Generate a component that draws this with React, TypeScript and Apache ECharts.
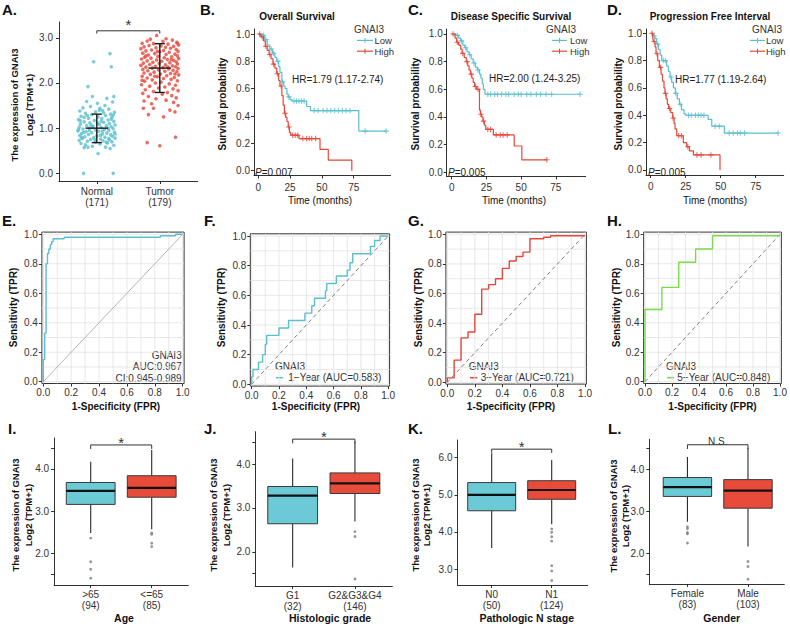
import React, { useEffect, useRef } from 'react';
import * as echarts from 'echarts';

const FONT = 'Liberation Sans';
const CYAN = '#5BBFCE';
const RED = '#E5473A';
const GREEN = '#7ADB4E';
const BOX_CYAN = '#6BCAD6';
const BOX_RED = '#E84B3A';

// ---------- Panel A : expression scatter ----------
const groupsA = ['Normal', 'Tumor'];
const countsA = [171, 179];
const ticksA = [0, 1, 2, 3];
// [jitter offset, value]
const normalPts = [
  [-0.21, 0.0], [0.26, 0.0], [0.21, 2.65], [-0.05, 2.47], [0.23, 2.36], [-0.14, 1.92], [-0.07, 1.7], [0.27, 1.7],
  [0.16, 1.66], [-0.16, 1.59], [0.01, 1.55], [0.13, 1.5], [0.25, 1.58], [-0.22, 1.45], [-0.1, 1.48], [0.05, 1.44],
  [0.19, 1.42], [-0.27, 1.38], [-0.02, 1.36], [0.09, 1.39], [0.28, 1.35], [-0.18, 1.33], [0.22, 1.31], [-0.08, 1.3],
  [0.14, 1.28], [-0.25, 1.26], [0.02, 1.25], [0.24, 1.24], [-0.13, 1.22], [0.08, 1.21], [-0.29, 1.19], [0.18, 1.18],
  [-0.04, 1.17], [0.27, 1.15], [-0.2, 1.14], [0.11, 1.13], [-0.11, 1.12], [0.2, 1.1], [-0.26, 1.09], [0.04, 1.08],
  [0.29, 1.07], [-0.16, 1.06], [0.15, 1.05], [-0.06, 1.04], [0.23, 1.03], [-0.28, 1.02], [0.07, 1.01], [-0.12, 1.0],
  [0.26, 0.99], [-0.22, 0.98], [0.12, 0.97], [-0.02, 0.96], [0.19, 0.95], [-0.3, 0.94], [0.03, 0.93], [-0.17, 0.92],
  [0.28, 0.91], [-0.08, 0.9], [0.16, 0.89], [-0.24, 0.88], [0.09, 0.87], [-0.13, 0.86], [0.22, 0.85], [-0.27, 0.84],
  [0.0, 0.83], [0.25, 0.82], [-0.19, 0.81], [0.13, 0.8], [-0.05, 0.79], [0.29, 0.78], [-0.23, 0.77], [0.06, 0.76],
  [-0.1, 0.75], [0.2, 0.74], [-0.28, 0.73], [0.1, 0.72], [-0.15, 0.71], [0.24, 0.7], [-0.02, 0.69], [0.17, 0.67],
  [-0.25, 0.66], [0.05, 0.65], [-0.18, 0.63], [0.27, 0.62], [-0.07, 0.6], [0.14, 0.58], [-0.2, 0.57], [0.21, 0.55],
  [0.02, 0.44], [-0.14, 0.58], [0.11, 1.34], [-0.2, 1.24], [0.07, 1.15], [-0.09, 1.07], [0.18, 1.0], [-0.21, 0.91],
  [0.06, 0.84], [-0.26, 1.16], [0.29, 0.87], [-0.03, 0.75], [0.15, 0.69], [-0.12, 0.95], [0.23, 1.2], [-0.15, 1.28],
  [0.01, 1.11], [0.26, 1.29], [-0.24, 0.79], [0.09, 0.93], [-0.07, 1.02], [0.19, 0.77], [-0.29, 0.97], [0.04, 1.4],
];
const tumorPts = [
  [-0.05, 3.05], [0.2, 2.95], [-0.2, 2.93], [0.05, 2.92], [0.27, 2.9], [-0.28, 2.88], [-0.1, 2.87], [0.13, 2.86],
  [0.3, 2.84], [-0.17, 2.83], [0.02, 2.82], [0.22, 2.81], [-0.25, 2.8], [0.09, 2.79], [-0.06, 2.78], [0.17, 2.77],
  [-0.3, 2.76], [0.26, 2.74], [-0.13, 2.73], [0.06, 2.72], [-0.22, 2.71], [0.29, 2.7], [0.0, 2.69], [0.15, 2.68],
  [-0.27, 2.66], [-0.08, 2.65], [0.24, 2.64], [0.1, 2.63], [-0.18, 2.62], [0.28, 2.6], [-0.03, 2.59], [0.19, 2.58],
  [-0.24, 2.57], [0.07, 2.56], [-0.14, 2.55], [0.3, 2.54], [-0.29, 2.53], [0.12, 2.52], [-0.05, 2.51], [0.22, 2.5],
  [-0.2, 2.49], [0.03, 2.48], [0.26, 2.47], [-0.11, 2.46], [0.16, 2.45], [-0.26, 2.44], [-0.01, 2.43], [0.28, 2.42],
  [-0.16, 2.41], [0.09, 2.4], [-0.3, 2.39], [0.2, 2.38], [-0.07, 2.37], [0.25, 2.36], [-0.22, 2.35], [0.05, 2.34],
  [-0.12, 2.33], [0.29, 2.32], [0.14, 2.31], [-0.27, 2.3], [-0.02, 2.29], [0.21, 2.28], [-0.19, 2.27], [0.08, 2.26],
  [0.27, 2.25], [-0.09, 2.24], [-0.25, 2.22], [0.17, 2.21], [0.01, 2.2], [-0.15, 2.19], [0.3, 2.18], [0.11, 2.16],
  [-0.28, 2.15], [-0.04, 2.14], [0.23, 2.12], [-0.2, 2.11], [0.06, 2.1], [0.18, 2.08], [-0.12, 2.07], [0.28, 2.05],
  [-0.24, 2.04], [0.02, 2.02], [-0.07, 2.0], [0.15, 1.98], [-0.29, 1.96], [0.25, 1.95], [-0.16, 1.93], [0.08, 1.91],
  [-0.02, 1.89], [0.21, 1.87], [-0.23, 1.85], [0.29, 1.83], [-0.1, 1.81], [0.12, 1.79], [-0.27, 1.77], [0.04, 1.75],
  [0.19, 1.72], [-0.18, 1.7], [0.26, 1.67], [-0.06, 1.65], [0.1, 1.62], [-0.25, 1.6], [0.22, 1.57], [-0.13, 1.54],
  [0.29, 1.5], [-0.26, 1.44], [-0.1, 1.44], [0.24, 1.36], [-0.18, 1.3], [0.06, 1.25], [0.16, 1.4], [-0.2, 0.68],
  [0.0, 0.61], [0.25, 0.8], [0.28, 2.88], [-0.15, 2.97], [0.1, 2.98], [-0.22, 2.6], [0.18, 2.52], [-0.04, 2.7],
  [0.24, 2.2], [-0.28, 2.06], [0.13, 2.35], [-0.08, 2.15],
];
// [group, mean, mean-sd, mean+sd]
const meanSdA = [[1, 1.0, 0.68, 1.31], [2, 2.33, 1.79, 2.87]];
const bracketA = [[1, 2, 3.155, 3.095]];

// ---------- Panels B-D : Kaplan-Meier ----------
const kmTicksX = [0, 25, 50, 75];
const kmTicksY = [0, 0.2, 0.4, 0.6, 0.8, 1.0];
const kmTitles = ['Overall Survival', 'Disease Specific Survival', 'Progression Free Interval'];
const kmHR = ['HR=1.79 (1.17-2.74)', 'HR=2.00 (1.24-3.25)', 'HR=1.77 (1.19-2.64)'];
const kmP = ['0.007', '0.005', '0.005'];
const kmGroups = ['Low', 'High'];

const osLow = [[0, 1], [3, 0.99], [5, 0.96], [7, 0.92], [9, 0.89], [11, 0.86], [13, 0.83], [14.5, 0.8], [16, 0.76], [17, 0.72], [18.5, 0.65], [20, 0.62], [21, 0.6], [22.5, 0.56], [23.5, 0.54], [25, 0.52], [26.5, 0.51], [38, 0.47], [41, 0.44], [79, 0.29], [100.5, 0.29]];
const osLowCens = [[4, 0.99], [6, 0.96], [10, 0.89], [12, 0.86], [15.5, 0.8], [19, 0.65], [24, 0.54], [28, 0.51], [30, 0.51], [32, 0.51], [34, 0.51], [36, 0.51], [44, 0.44], [47, 0.44], [51, 0.44], [54, 0.44], [57, 0.44], [60, 0.44], [63, 0.44], [66, 0.44], [69, 0.44], [72, 0.44], [84, 0.29], [100.5, 0.29]];
const osHigh = [[0, 1], [2, 0.98], [4, 0.95], [5.5, 0.91], [7, 0.88], [8.5, 0.85], [10, 0.82], [11.5, 0.78], [13, 0.75], [14.5, 0.71], [16, 0.66], [17, 0.62], [18.5, 0.55], [19.5, 0.48], [20.5, 0.42], [21.5, 0.39], [22.5, 0.36], [23.5, 0.32], [24.5, 0.28], [25.5, 0.26], [32, 0.235], [48.5, 0.156], [55, 0.078], [73.5, 0]];
const osHighCens = [[1, 1], [3, 0.98], [6, 0.91], [9, 0.85], [12, 0.78], [15, 0.71], [18, 0.62], [21, 0.42], [24, 0.32], [27, 0.26], [29, 0.26], [31, 0.26], [35, 0.235], [38, 0.235], [40, 0.235], [42, 0.235], [45, 0.235]];

const dssLow = [[0, 1], [3, 0.99], [5, 0.97], [6.5, 0.95], [8, 0.92], [9.5, 0.9], [11, 0.87], [12.5, 0.85], [14, 0.82], [15.5, 0.79], [17, 0.76], [18.5, 0.74], [20, 0.71], [21, 0.68], [22, 0.64], [22.8, 0.6], [24, 0.564], [92.5, 0.564]];
const dssLowCens = [[4, 0.99], [7, 0.95], [10, 0.9], [13, 0.85], [16, 0.79], [19, 0.74], [26, 0.564], [28, 0.564], [31, 0.564], [33, 0.564], [36, 0.564], [39, 0.564], [41, 0.564], [45, 0.564], [48, 0.564], [50, 0.564], [54, 0.564], [57, 0.564], [61, 0.564], [64, 0.564], [68, 0.564], [72, 0.564], [92.5, 0.564]];
const dssHigh = [[0, 1], [2.4, 0.97], [3.6, 0.94], [5, 0.92], [6.5, 0.89], [7.5, 0.86], [9, 0.83], [10.5, 0.8], [11.5, 0.77], [12.5, 0.74], [13.5, 0.71], [14.5, 0.68], [15.5, 0.65], [16.5, 0.62], [18, 0.6], [20, 0.45], [20.7, 0.42], [21.5, 0.4], [22.5, 0.37], [23.5, 0.34], [24.5, 0.31], [30, 0.27], [45, 0.19], [50.5, 0.09], [68.5, 0.09]];
const dssHighCens = [[1, 1], [4, 0.94], [8, 0.86], [11, 0.8], [14, 0.71], [17, 0.62], [19, 0.6], [21, 0.42], [23, 0.37], [26, 0.31], [28, 0.31], [32, 0.27], [35, 0.27], [37, 0.27], [40, 0.27], [68.5, 0.09]];

const pfiLow = [[0, 1], [1.9, 0.98], [3.1, 0.96], [4.3, 0.92], [5.5, 0.88], [6.7, 0.84], [7.9, 0.8], [11.4, 0.76], [12.6, 0.72], [13.8, 0.68], [15, 0.64], [16.2, 0.6], [17.6, 0.56], [19, 0.52], [20.5, 0.48], [22, 0.44], [23.8, 0.41], [25, 0.4], [41, 0.37], [43.6, 0.32], [52.6, 0.27], [91, 0.27]];
const pfiLowCens = [[2.5, 0.98], [5, 0.92], [9, 0.8], [10.5, 0.8], [14.4, 0.68], [18, 0.56], [21, 0.48], [27, 0.4], [29, 0.4], [32, 0.4], [34, 0.4], [36, 0.4], [38, 0.4], [46, 0.32], [49, 0.32], [56, 0.27], [59, 0.27], [62, 0.27], [64, 0.27], [67, 0.27], [91, 0.27]];
const pfiHigh = [[0, 1], [1.4, 0.97], [1.9, 0.94], [3.1, 0.9], [3.8, 0.85], [5, 0.8], [6.2, 0.75], [7.4, 0.7], [8.4, 0.65], [9.5, 0.6], [10.2, 0.56], [11, 0.52], [11.9, 0.48], [12.8, 0.45], [14.3, 0.42], [15.7, 0.38], [16.7, 0.34], [17.4, 0.3], [18.6, 0.25], [23.3, 0.2], [25.7, 0.17], [27.6, 0.14], [30.5, 0.11], [49.5, 0]];
const pfiHighCens = [[1, 1], [2.5, 0.94], [4.5, 0.85], [7, 0.75], [10.6, 0.56], [13.5, 0.45], [16, 0.38], [20, 0.25], [22, 0.25], [26.5, 0.17], [33, 0.11], [36, 0.11], [43, 0.11]];

const kmCurves = [
  { low: osLow, lowC: osLowCens, high: osHigh, highC: osHighCens },
  { low: dssLow, lowC: dssLowCens, high: dssHigh, highC: dssHighCens },
  { low: pfiLow, lowC: pfiLowCens, high: pfiHigh, highC: pfiHighCens },
];

// ---------- Panels E-H : ROC ----------
const rocTicks = [0, 0.2, 0.4, 0.6, 0.8, 1.0];
const rocGridVals = [0, 0.1, 0.2, 0.3, 0.4, 0.5, 0.6, 0.7, 0.8, 0.9, 1.0];
const diag = [[0, 0], [1, 1]];
const rocE = [[0, 0], [0, 0.15], [0.01, 0.15], [0.01, 0.33], [0.02, 0.33], [0.02, 0.8], [0.03, 0.8], [0.03, 0.87], [0.04, 0.87], [0.04, 0.9], [0.05, 0.9], [0.05, 0.93], [0.06, 0.93], [0.06, 0.95], [0.07, 0.95], [0.07, 0.97], [0.15, 0.97], [0.15, 0.98], [0.84, 0.98], [0.84, 0.99], [0.95, 0.99], [0.95, 1], [1, 1]];
const rocF = [[0, 0], [0, 0.05], [0.01, 0.05], [0.01, 0.1], [0.05, 0.1], [0.05, 0.15], [0.08, 0.15], [0.08, 0.2], [0.1, 0.2], [0.1, 0.27], [0.11, 0.27], [0.11, 0.33], [0.2, 0.33], [0.2, 0.38], [0.27, 0.38], [0.27, 0.43], [0.39, 0.43], [0.39, 0.48], [0.44, 0.48], [0.44, 0.53], [0.46, 0.53], [0.46, 0.58], [0.54, 0.58], [0.54, 0.63], [0.55, 0.63], [0.55, 0.68], [0.62, 0.68], [0.62, 0.73], [0.7, 0.73], [0.7, 0.77], [0.72, 0.77], [0.72, 0.82], [0.74, 0.82], [0.74, 0.88], [0.87, 0.88], [0.87, 0.93], [0.9, 0.93], [0.9, 0.97], [0.94, 0.97], [0.94, 1], [1, 1]];
const rocG = [[0, 0], [0, 0.03], [0.05, 0.03], [0.05, 0.15], [0.1, 0.15], [0.1, 0.3], [0.15, 0.3], [0.15, 0.34], [0.2, 0.34], [0.2, 0.46], [0.25, 0.46], [0.25, 0.63], [0.3, 0.63], [0.3, 0.66], [0.35, 0.66], [0.35, 0.7], [0.4, 0.7], [0.4, 0.77], [0.45, 0.77], [0.45, 0.82], [0.5, 0.82], [0.5, 0.85], [0.55, 0.85], [0.55, 0.88], [0.6, 0.88], [0.6, 0.97], [0.7, 0.97], [0.7, 0.98], [0.75, 0.98], [0.75, 0.99], [1, 0.99]];
const rocH = [[0, 0], [0, 0.49], [0.125, 0.49], [0.125, 0.64], [0.25, 0.64], [0.25, 0.81], [0.375, 0.81], [0.375, 0.9], [0.5, 0.9], [0.5, 0.99], [1, 0.99]];
const rocLegendF = '1\u2212Year (AUC=0.583)';
const rocLegendG = '3\u2212Year (AUC=0.721)';
const rocLegendH = '5\u2212Year (AUC=0.848)';
const rocLegendE = ['GNAI3', 'AUC:0.967', 'CI:0.945-0.989'];

// ---------- Panels I-L : boxplots ----------
const boxTicks = [1.5, 2, 3, 4, 4.5];
const boxLabels = [2, 3, 4];
const boxTicksK = [3, 4, 5, 6];
const catsI = ['>65', '<=65'];
const nI = [94, 85];
const catsJ = ['G1', 'G2&G3&G4'];
const nJ = [32, 146];
const catsK = ['N0', 'N1'];
const nK = [50, 124];
const catsL = ['Female', 'Male'];
const nL = [83, 103];
// [group, lower whisker, Q1, median, Q3, upper whisker]
const boxI = [[1, 2.48, 3.16, 3.48, 3.68, 4.17], [2, 2.57, 3.33, 3.55, 3.84, 4.45]];
const outI = [[1, 2.36], [1, 1.8], [1, 1.62], [1, 1.41], [2, 2.48], [2, 2.45], [2, 2.24], [2, 2.16]];
const boxJ = [[1, 1.64, 2.64, 3.28, 3.49, 4.13], [2, 2.69, 3.33, 3.56, 3.8, 4.51]];
const outJ = [[2, 2.46], [2, 2.35], [2, 1.38]];
const boxK = [[1, 3.57, 4.57, 5.0, 5.33, 6.12], [2, 4.21, 4.88, 5.13, 5.38, 5.94]];
const outK = [[2, 4.08], [2, 3.99], [2, 3.87], [2, 3.75], [2, 3.09], [2, 2.95], [2, 2.69]];
const boxL = [[1, 2.75, 3.35, 3.57, 3.8, 4.29], [2, 2.16, 3.07, 3.49, 3.75, 4.5]];
const outL = [[1, 2.63], [1, 2.58], [1, 2.49], [1, 2.46], [1, 2.24], [2, 1.8], [2, 1.68], [2, 1.38]];
const bracketI = [[1, 2, 4.57, 4.475]];
const bracketJ = [[1, 2, 4.57, 4.475]];
const bracketK = [[1, 2, 6.23, 6.13]];
const bracketL = [[1, 2, 4.58, 4.48]];

// ---------- layout ----------
const GRIDS = [
  { left: 59, top: 22, width: 138.6, height: 159 },
  { left: 254, top: 29, width: 136.6, height: 146.5 },
  { left: 446.7, top: 29, width: 139, height: 147.4 },
  { left: 646, top: 29, width: 137.7, height: 146 },
  { left: 41.9, top: 232.1, width: 142.2, height: 151.4 },
  { left: 250.3, top: 233.8, width: 139.3, height: 152.3 },
  { left: 445.9, top: 232.1, width: 140.5, height: 152 },
  { left: 643.65, top: 232.1, width: 137.7, height: 151.4 },
  { left: 54.1, top: 438, width: 134.2, height: 147 },
  { left: 255.3, top: 431.7, width: 137, height: 154.3 },
  { left: 457.5, top: 440, width: 130.2, height: 145 },
  { left: 649.3, top: 439.3, width: 135, height: 144.7 },
];
const RANGES = [
  { x: [0.4, 2.6], y: [-0.17, 3.35] },
  { x: [-3.4, 104], y: [-0.035, 1.037] },
  { x: [-3.6, 96.5], y: [-0.03, 1.036] },
  { x: [-3.36, 95], y: [-0.037, 1.031] },
  { x: [-0.01, 1.01], y: [-0.012, 1.015] },
  { x: [-0.01, 1.01], y: [-0.012, 1.015] },
  { x: [-0.01, 1.01], y: [-0.012, 1.015] },
  { x: [-0.01, 1.01], y: [-0.012, 1.015] },
  { x: [0.4, 2.6], y: [1.248, 4.735] },
  { x: [0.4, 2.6], y: [1.22, 4.74] },
  { x: [0.43, 2.6], y: [2.57, 6.477] },
  { x: [0.37, 2.6], y: [1.265, 4.71] },
];

const AX_COLOR = '#1a1a1a';

function vAxis(gi: number, range: number[], ticks: number[], fmt: (v: number) => string, o: any = {}) {
  return {
    type: 'value', gridIndex: gi, min: range[0], max: range[1],
    splitLine: { show: false },
    axisLine: { show: o.line !== false, onZero: false, lineStyle: { color: AX_COLOR, width: 0.9 } },
    axisTick: { show: true, length: 3, customValues: ticks, lineStyle: { color: AX_COLOR, width: 0.9 } },
    axisLabel: {
      customValues: o.labels || ticks, formatter: fmt, margin: o.margin ?? 5,
      color: '#333', fontFamily: FONT, fontSize: 10, lineHeight: o.lh ?? 11,
    },
  };
}

const fix1 = (v: number) => v.toFixed(1);
const catFmt = (cats: string[], ns: number[]) => (v: number) => {
  const i = Math.round(v) - 1;
  return `${cats[i]}\n(${ns[i]})`;
};

const plusPath = 'path://M4,0H6V4H10V6H6V10H4V6H0V4H4Z';

const errRender = (params: any, api: any) => {
  const x = api.value(0);
  const pm = api.coord([x, api.value(1)]);
  const pl = api.coord([x, api.value(2)]);
  const ph = api.coord([x, api.value(3)]);
  const cap = api.size([0.08, 0])[0];
  const half = api.size([0.18, 0])[0];
  const st = { stroke: '#1a1a1a', lineWidth: 1.4 };
  return {
    type: 'group', children: [
      { type: 'line', shape: { x1: pl[0], y1: pl[1], x2: ph[0], y2: ph[1] }, style: st },
      { type: 'line', shape: { x1: pl[0] - cap, y1: pl[1], x2: pl[0] + cap, y2: pl[1] }, style: st },
      { type: 'line', shape: { x1: ph[0] - cap, y1: ph[1], x2: ph[0] + cap, y2: ph[1] }, style: st },
      { type: 'line', shape: { x1: pm[0] - half, y1: pm[1], x2: pm[0] + half, y2: pm[1] }, style: st },
    ],
  };
};

const boxRender = (colors: string[]) => (params: any, api: any) => {
  const x = api.value(0);
  const lo = api.coord([x, api.value(1)]);
  const q1 = api.coord([x, api.value(2)]);
  const md = api.coord([x, api.value(3)]);
  const q3 = api.coord([x, api.value(4)]);
  const hi = api.coord([x, api.value(5)]);
  const w = api.size([0.8, 0])[0];
  const cx = q1[0];
  const st = { stroke: '#2a2a2a', lineWidth: 1.1 };
  return {
    type: 'group', children: [
      { type: 'line', shape: { x1: cx, y1: lo[1], x2: cx, y2: q1[1] }, style: st },
      { type: 'line', shape: { x1: cx, y1: q3[1], x2: cx, y2: hi[1] }, style: st },
      { type: 'rect', shape: { x: cx - w / 2, y: q3[1], width: w, height: q1[1] - q3[1] }, style: { fill: colors[params.dataIndex], stroke: '#3a3a3a', lineWidth: 1 } },
      { type: 'line', shape: { x1: cx - w / 2, y1: md[1], x2: cx + w / 2, y2: md[1] }, style: { stroke: '#111', lineWidth: 2.2 } },
    ],
  };
};

const bracketRender = (label: string, dy: number, fs: number) => (params: any, api: any) => {
  const a = api.coord([api.value(0), api.value(2)]);
  const b = api.coord([api.value(1), api.value(2)]);
  const t = api.coord([api.value(0), api.value(3)]);
  const st = { stroke: '#333', lineWidth: 1 };
  return {
    type: 'group', children: [
      { type: 'line', shape: { x1: a[0], y1: a[1], x2: b[0], y2: b[1] }, style: st },
      { type: 'line', shape: { x1: a[0], y1: a[1], x2: a[0], y2: t[1] }, style: st },
      { type: 'line', shape: { x1: b[0], y1: b[1], x2: b[0], y2: t[1] }, style: st },
      { type: 'text', x: (a[0] + b[0]) / 2, y: a[1] + dy, style: { text: label, fill: '#333', fontSize: fs, fontFamily: FONT, textAlign: 'center', textVerticalAlign: 'middle' } },
    ],
  };
};

const rocGridRender = (params: any, api: any) => {
  const v = api.value(0);
  const cs = params.coordSys;
  const px = api.coord([v, 0])[0];
  const py = api.coord([0, v])[1];
  const st = { stroke: '#e2e2e2', lineWidth: 0.8 };
  return {
    type: 'group', children: [
      { type: 'line', shape: { x1: px, y1: cs.y, x2: px, y2: cs.y + cs.height }, style: st },
      { type: 'line', shape: { x1: cs.x, y1: py, x2: cs.x + cs.width, y2: py }, style: st },
    ],
  };
};

function buildOption() {
  const grid: any[] = GRIDS.map((g, i) => ({
    ...g, containLabel: false, outerBoundsMode: 'none',
    show: i >= 4 && i <= 7, borderColor: '#333', borderWidth: 1, backgroundColor: 'transparent',
  }));
  const xAxis: any[] = [];
  const yAxis: any[] = [];
  const series: any[] = [];
  const el: any[] = [];

  const text = (x: number, y: number, s: string, o: any = {}) => {
    el.push({
      type: 'text', x, y, rotation: o.rot || 0, silent: true,
      style: {
        text: s, fill: o.color || '#222', fontFamily: FONT, fontSize: o.size || 10,
        fontWeight: o.bold ? 'bold' : 'normal', textAlign: o.align || 'left', textVerticalAlign: 'middle',
        rich: o.rich,
      },
    });
  };
  const seg = (x1: number, y1: number, x2: number, y2: number, color: string, w = 1.2) => {
    el.push({ type: 'line', silent: true, shape: { x1, y1, x2, y2 }, style: { stroke: color, lineWidth: w } });
  };

  // ----- A -----
  xAxis.push(vAxis(0, RANGES[0].x, [1, 2], catFmt(groupsA, countsA), { margin: 4.5, lh: 11.5 }));
  yAxis.push(vAxis(0, RANGES[0].y, ticksA, fix1, { margin: 6 }));
  series.push({ type: 'scatter', xAxisIndex: 0, yAxisIndex: 0, symbolSize: 3.6, itemStyle: { color: CYAN }, data: normalPts.map(([d, v]) => [1 + d, v]), silent: true });
  series.push({ type: 'scatter', xAxisIndex: 0, yAxisIndex: 0, symbolSize: 3.6, itemStyle: { color: RED }, data: tumorPts.map(([d, v]) => [2 + d, v]), silent: true });
  series.push({ type: 'custom', xAxisIndex: 0, yAxisIndex: 0, renderItem: errRender, data: meanSdA, encode: { x: 0, y: [1, 2, 3] }, z: 5, silent: true });
  series.push({ type: 'custom', xAxisIndex: 0, yAxisIndex: 0, renderItem: bracketRender('*', -6, 15), data: bracketA, encode: { x: [0, 1], y: [2, 3] }, silent: true });

  // ----- B-D -----
  for (let k = 0; k < 3; k++) {
    const gi = 1 + k;
    xAxis.push(vAxis(gi, RANGES[gi].x, kmTicksX, (v: number) => String(v), { margin: 6 }));
    yAxis.push(vAxis(gi, RANGES[gi].y, kmTicksY, fix1, { margin: 4 }));
    const c = kmCurves[k];
    const line = (data: number[][], color: string) => ({
      type: 'line', xAxisIndex: gi, yAxisIndex: gi, data, step: 'end', showSymbol: false, symbol: 'none',
      lineStyle: { color, width: 1.2 }, itemStyle: { color }, silent: true,
    });
    const cens = (data: number[][], color: string) => ({
      type: 'scatter', xAxisIndex: gi, yAxisIndex: gi, data, symbol: plusPath, symbolSize: 5.5,
      itemStyle: { color }, silent: true,
    });
    series.push(line(c.low, CYAN), cens(c.lowC, CYAN), line(c.high, RED), cens(c.highC, RED));
  }
  const kmLay = [
    { title: 297, gn: 354, l1: 357, l2: 373, tx: 374.5, hr: [292, 79], p: [255, 172], yl: 222, xl: 320 },
    { title: 511, gn: 546, l1: 552, l2: 567, tx: 570, hr: [489, 78], p: [448, 172], yl: 415, xl: 514 },
    { title: 710, gn: 752, l1: 750, l2: 765, tx: 766, hr: [675, 79], p: [648, 172], yl: 618, xl: 715 },
  ];
  kmLay.forEach((L, k) => {
    text(L.title, 16, kmTitles[k], { bold: true, align: 'center', color: '#111' });
    text(L.gn, 29, 'GNAI3', { color: '#333' });
    [CYAN, RED].forEach((col, j) => {
      const y = j === 0 ? 40.4 : 51.2;
      seg(L.l1, y, L.l2, y, col, 1.2);
      const mx = (L.l1 + L.l2) / 2;
      seg(mx, y - 2.5, mx, y + 2.5, col, 1);
      text(L.tx, y, kmGroups[j], { size: 9.5, color: '#333' });
    });
    text(L.hr[0], L.hr[1], kmHR[k], { color: '#222' });
    text(L.p[0], L.p[1], `{i|P}=${kmP[k]}`, { color: '#222', rich: { i: { fontStyle: 'italic', fontSize: 10, fontFamily: FONT, fill: '#222' } } });
    text(L.yl, 104, 'Survival probability', { bold: true, rot: Math.PI / 2, align: 'center', color: '#111' });
    text(L.xl, 200, 'Time (months)', { align: 'center', color: '#111' });
  });

  // ----- E-H -----
  const rocSets = [
    { data: rocE, color: CYAN, diagColor: '#b3b3b3', dashed: false },
    { data: rocF, color: CYAN, diagColor: '#808080', dashed: true },
    { data: rocG, color: RED, diagColor: '#808080', dashed: true },
    { data: rocH, color: GREEN, diagColor: '#808080', dashed: true },
  ];
  rocSets.forEach((r, k) => {
    const gi = 4 + k;
    xAxis.push(vAxis(gi, RANGES[gi].x, rocTicks, fix1, { margin: 3.5, line: false }));
    yAxis.push(vAxis(gi, RANGES[gi].y, rocTicks, fix1, { margin: 4, line: false }));
    series.push({ type: 'custom', xAxisIndex: gi, yAxisIndex: gi, renderItem: rocGridRender, data: rocGridVals.map((v) => [v, v]), encode: { x: 0, y: 1 }, silent: true, z: 1 });
    series.push({ type: 'line', xAxisIndex: gi, yAxisIndex: gi, data: diag, showSymbol: false, symbol: 'none', lineStyle: { color: r.diagColor, width: 1, type: r.dashed ? [4, 3] : 'solid' }, silent: true, z: 2 });
    series.push({ type: 'line', xAxisIndex: gi, yAxisIndex: gi, data: r.data, showSymbol: false, symbol: 'none', lineStyle: { color: r.color, width: 1.4 }, itemStyle: { color: r.color }, silent: true, z: 3 });
  });
  const rocLay = [
    { yl: 13.3, xl: 116 },
    { yl: 221.7, xl: 316 },
    { yl: 418.3, xl: 511 },
    { yl: 616.7, xl: 712.5 },
  ];
  rocLay.forEach((L) => {
    text(L.yl, 307.5, 'Sensitivity (TPR)', { bold: true, rot: Math.PI / 2, align: 'center', color: '#111' });
    text(L.xl, 406, '1-Specificity (FPR)', { bold: true, align: 'center', color: '#111' });
  });
  text(181.7, 355.3, rocLegendE[0], { align: 'right', color: '#333' });
  text(181.7, 366.7, rocLegendE[1], { align: 'right', color: '#333' });
  text(181.7, 378.1, rocLegendE[2], { align: 'right', color: '#333' });
  const rocLeg = [
    { gn: 275, l1: 276, l2: 283, tx: 288.3, color: CYAN, label: rocLegendF },
    { gn: 468.7, l1: 470, l2: 477.3, tx: 480.7, color: RED, label: rocLegendG },
    { gn: 666, l1: 667, l2: 674, tx: 677.3, color: GREEN, label: rocLegendH },
  ];
  rocLeg.forEach((L) => {
    text(L.gn, 366.2, 'GNAI3', { color: '#333' });
    seg(L.l1, 377.7, L.l2, 377.7, L.color, 1.5);
    text(L.tx, 377.7, L.label, { color: '#333' });
  });

  // ----- I-L -----
  const boxSets = [
    { box: boxI, out: outI, cats: catsI, ns: nI, ticks: boxTicks, labels: boxLabels, br: bracketI, lab: '*', dy: -2, fs: 15 },
    { box: boxJ, out: outJ, cats: catsJ, ns: nJ, ticks: boxTicks, labels: boxLabels, br: bracketJ, lab: '*', dy: -2.7, fs: 15 },
    { box: boxK, out: outK, cats: catsK, ns: nK, ticks: boxTicksK, labels: boxTicksK, br: bracketK, lab: '*', dy: -2.6, fs: 15 },
    { box: boxL, out: outL, cats: catsL, ns: nL, ticks: boxTicks, labels: boxLabels, br: bracketL, lab: 'N.S.', dy: -3.3, fs: 10 },
  ];
  boxSets.forEach((b, k) => {
    const gi = 8 + k;
    xAxis.push(vAxis(gi, RANGES[gi].x, [1, 2], catFmt(b.cats, b.ns), { margin: 3.5, lh: 11.5 }));
    yAxis.push(vAxis(gi, RANGES[gi].y, b.ticks, fix1, { margin: 5, labels: b.labels }));
    series.push({ type: 'custom', xAxisIndex: gi, yAxisIndex: gi, renderItem: boxRender([BOX_CYAN, BOX_RED]), data: b.box, encode: { x: 0, y: [1, 2, 3, 4, 5] }, silent: true });
    series.push({ type: 'scatter', xAxisIndex: gi, yAxisIndex: gi, data: b.out, symbolSize: 2.8, itemStyle: { color: '#7a7a7a' }, silent: true });
    series.push({ type: 'custom', xAxisIndex: gi, yAxisIndex: gi, renderItem: bracketRender(b.lab, b.dy, b.fs), data: b.br, encode: { x: [0, 1], y: [2, 3] }, silent: true });
  });
  const exprLay = [
    { x1: 14, x2: 29, y: 105 },
    { x1: 15, x2: 28.3, y: 515 },
    { x1: 213.3, x2: 226.7, y: 515 },
    { x1: 415, x2: 426.7, y: 515 },
    { x1: 613.3, x2: 625, y: 516 },
  ];
  exprLay.forEach((L) => {
    text(L.x1, L.y, 'The expression of GNAI3', { bold: true, size: 9.5, rot: Math.PI / 2, align: 'center', color: '#111' });
    text(L.x2, L.y, 'Log2 (TPM+1)', { bold: true, size: 9.5, rot: Math.PI / 2, align: 'center', color: '#111' });
  });
  const xTitles = [['Age', 124], ['Histologic grade', 330], ['Pathologic N stage', 526.7], ['Gender', 721.7]];
  xTitles.forEach(([s, x]) => text(x as number, 618, s as string, { bold: true, size: 10.5, align: 'center', color: '#111' }));

  // panel letters
  const letters: [string, number, number][] = [
    ['A.', 2, 9], ['B.', 200, 9], ['C.', 408, 9], ['D.', 607, 9],
    ['E.', 2, 220], ['F.', 204, 220], ['G.', 408, 220], ['H.', 607, 220],
    ['I.', 8, 428], ['J.', 204, 428], ['K.', 408, 428], ['L.', 608, 428],
  ];
  letters.forEach(([s, x, y]) => text(x, y, s, { bold: true, size: 15, color: '#111' }));

  return {
    animation: false,
    backgroundColor: '#ffffff',
    textStyle: { fontFamily: FONT },
    grid, xAxis, yAxis, series,
    graphic: { elements: el },
  };
}

export default function App() {
  const ref = useRef<HTMLDivElement>(null);
  useEffect(() => {
    document.body.style.margin = '0';
    const chart = echarts.init(ref.current as HTMLDivElement, null, { renderer: 'svg' });
    chart.setOption(buildOption() as any);
    return () => chart.dispose();
  }, []);
  return <div ref={ref} style={{ width: 790, height: 624, background: '#fff' }} />;
}
